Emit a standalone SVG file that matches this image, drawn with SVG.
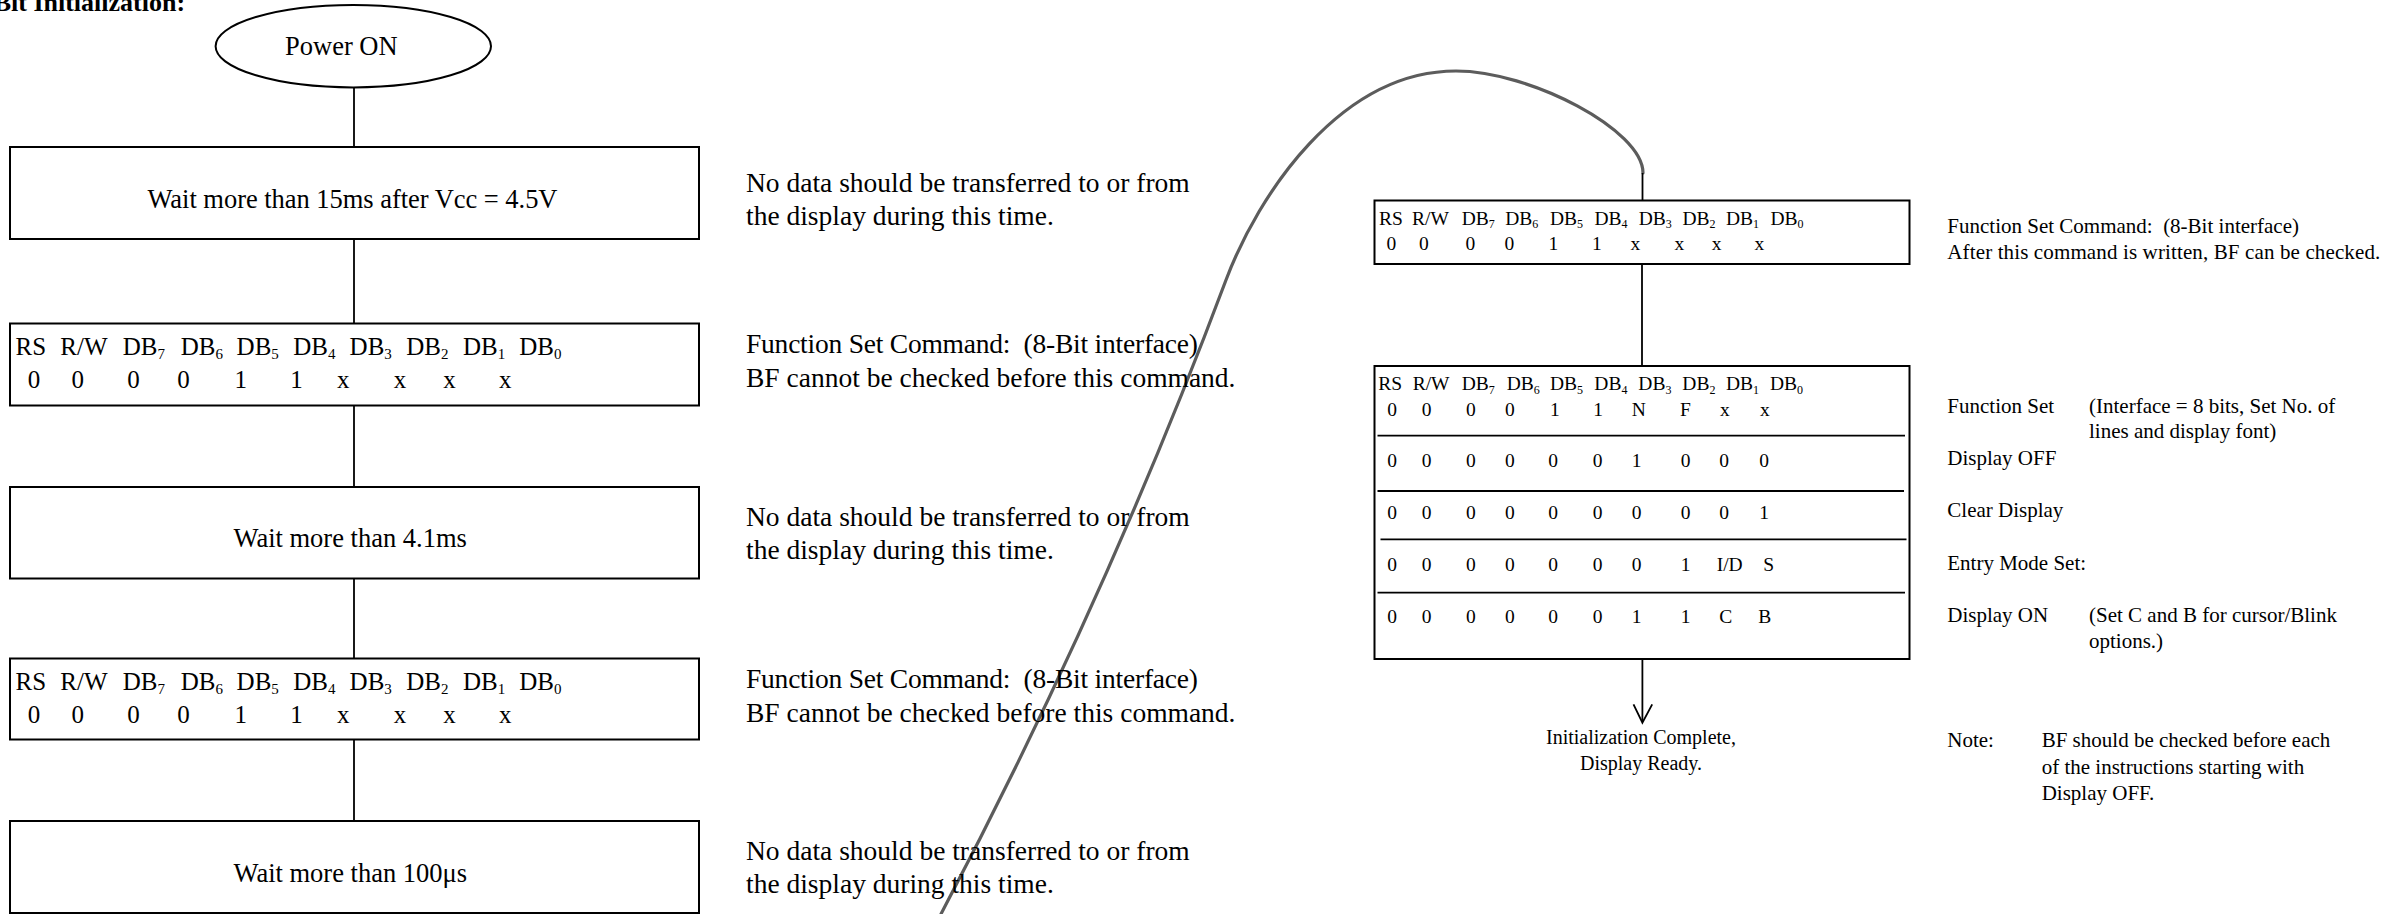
<svg xmlns="http://www.w3.org/2000/svg" width="2387" height="914" viewBox="0 0 2387 914">
<style>
.box{fill:none;stroke:#000;stroke-width:2}
.ln{fill:none;stroke:#000;stroke-width:1.8}
.curve{fill:none;stroke:#5c5c5c;stroke-width:3.2;stroke-linecap:round}
text{font-family:"Liberation Serif","Times New Roman",serif;fill:#000}
.title{font-size:26px;font-weight:bold}
.lt{font-size:26.5px}
.mt{font-size:27.5px}
.rt{font-size:21px}
.ft{font-size:20px}
.bt{font-size:25px}
.sb{font-size:15px}
.rb{font-size:19.5px}
.rsb{font-size:12px}
</style>
<rect width="2387" height="914" fill="#fff"/>
<text class="title" x="-28" y="11">8-Bit Initialization:</text>

<g id="connectors">
<line class="ln" x1="354" y1="87" x2="354" y2="147"/>
<line class="ln" x1="354" y1="239" x2="354" y2="323.5"/>
<line class="ln" x1="354" y1="405.5" x2="354" y2="487"/>
<line class="ln" x1="354" y1="578.5" x2="354" y2="658.5"/>
<line class="ln" x1="354" y1="739.5" x2="354" y2="821"/>
<path class="curve" d="M 941 914 C 1052 703, 1147 491, 1226 280 C 1258 195, 1340 71, 1456 71 C 1530 71, 1643 130, 1643 173"/>
<line class="ln" x1="1642.5" y1="173" x2="1642.5" y2="200.5"/>
<line class="ln" x1="1642" y1="264" x2="1642" y2="366"/>
<line class="ln" x1="1642.4" y1="659" x2="1642.4" y2="722"/>
<polyline class="ln" points="1633.5,704.3 1642.4,722.7 1652.2,704.3"/>
</g>

<g id="power-on">
<ellipse cx="353.3" cy="46.2" rx="137.7" ry="41.2" fill="none" stroke="#000" stroke-width="2"/>
<text class="lt" x="285" y="55">Power ON</text>
</g>

<g id="wait15">
<rect class="box" x="10" y="147" width="689" height="92"/>
<text class="lt" x="147.5" y="208.3" textLength="410">Wait more than 15ms after Vcc = 4.5V</text>
</g>
<g id="note1">
<text class="mt" x="746" y="191.7">No data should be transferred to or from</text>
<text class="mt" x="746" y="225">the display during this time.</text>
</g>

<g id="fs1">
<rect class="box" x="10" y="323.5" width="689" height="82"/>
<text class="bt"><tspan x="15.6" y="355">RS</tspan><tspan x="60.3" y="355">R/W</tspan><tspan x="122.8" y="355">DB</tspan><tspan class="sb" y="359">7</tspan><tspan x="180.8" y="355">DB</tspan><tspan class="sb" y="359">6</tspan><tspan x="236.6" y="355">DB</tspan><tspan class="sb" y="359">5</tspan><tspan x="293.3" y="355">DB</tspan><tspan class="sb" y="359">4</tspan><tspan x="349.6" y="355">DB</tspan><tspan class="sb" y="359">3</tspan><tspan x="406.3" y="355">DB</tspan><tspan class="sb" y="359">2</tspan><tspan x="463" y="355">DB</tspan><tspan class="sb" y="359">1</tspan><tspan x="519.2" y="355">DB</tspan><tspan class="sb" y="359">0</tspan></text>
<text class="bt" y="388.3"><tspan x="27.7">0</tspan><tspan x="71.4">0</tspan><tspan x="127.2">0</tspan><tspan x="177.2">0</tspan><tspan x="234.4">1</tspan><tspan x="290.2">1</tspan><tspan x="337">x</tspan><tspan x="393.8">x</tspan><tspan x="443.3">x</tspan><tspan x="499.1">x</tspan></text>
</g>
<g id="note2">
<text class="mt" x="746" y="353.3" xml:space="preserve" textLength="452">Function Set Command:  (8-Bit interface)</text>
<text class="mt" x="746" y="386.7">BF cannot be checked before this command.</text>
</g>

<g id="wait41">
<rect class="box" x="10" y="487" width="689" height="91.5"/>
<text class="lt" x="233.5" y="546.7">Wait more than 4.1ms</text>
</g>
<g id="note3">
<text class="mt" x="746" y="525.7">No data should be transferred to or from</text>
<text class="mt" x="746" y="559">the display during this time.</text>
</g>

<g id="fs2">
<rect class="box" x="10" y="658.5" width="689" height="81"/>
<text class="bt"><tspan x="15.6" y="690">RS</tspan><tspan x="60.3" y="690">R/W</tspan><tspan x="122.8" y="690">DB</tspan><tspan class="sb" y="694">7</tspan><tspan x="180.8" y="690">DB</tspan><tspan class="sb" y="694">6</tspan><tspan x="236.6" y="690">DB</tspan><tspan class="sb" y="694">5</tspan><tspan x="293.3" y="690">DB</tspan><tspan class="sb" y="694">4</tspan><tspan x="349.6" y="690">DB</tspan><tspan class="sb" y="694">3</tspan><tspan x="406.3" y="690">DB</tspan><tspan class="sb" y="694">2</tspan><tspan x="463" y="690">DB</tspan><tspan class="sb" y="694">1</tspan><tspan x="519.2" y="690">DB</tspan><tspan class="sb" y="694">0</tspan></text>
<text class="bt" y="723.3"><tspan x="27.7">0</tspan><tspan x="71.4">0</tspan><tspan x="127.2">0</tspan><tspan x="177.2">0</tspan><tspan x="234.4">1</tspan><tspan x="290.2">1</tspan><tspan x="337">x</tspan><tspan x="393.8">x</tspan><tspan x="443.3">x</tspan><tspan x="499.1">x</tspan></text>
</g>
<g id="note4">
<text class="mt" x="746" y="688.3" xml:space="preserve" textLength="452">Function Set Command:  (8-Bit interface)</text>
<text class="mt" x="746" y="721.7">BF cannot be checked before this command.</text>
</g>

<g id="wait100">
<rect class="box" x="10" y="821" width="689" height="92"/>
<text class="lt" x="233.5" y="881.7">Wait more than 100μs</text>
</g>
<g id="note5">
<text class="mt" x="746" y="860">No data should be transferred to or from</text>
<text class="mt" x="746" y="893.3">the display during this time.</text>
</g>

<g id="fs3">
<rect class="box" x="1374.5" y="200.5" width="535" height="63.5"/>
<text class="rb"><tspan x="1379" y="224.5">RS</tspan><tspan x="1412" y="224.5">R/W</tspan><tspan x="1461.7" y="224.5">DB</tspan><tspan class="rsb" y="228">7</tspan><tspan x="1505.2" y="224.5">DB</tspan><tspan class="rsb" y="228">6</tspan><tspan x="1550" y="224.5">DB</tspan><tspan class="rsb" y="228">5</tspan><tspan x="1594.5" y="224.5">DB</tspan><tspan class="rsb" y="228">4</tspan><tspan x="1638.7" y="224.5">DB</tspan><tspan class="rsb" y="228">3</tspan><tspan x="1682.5" y="224.5">DB</tspan><tspan class="rsb" y="228">2</tspan><tspan x="1726" y="224.5">DB</tspan><tspan class="rsb" y="228">1</tspan><tspan x="1770.5" y="224.5">DB</tspan><tspan class="rsb" y="228">0</tspan></text>
<text class="rb" y="250"><tspan x="1386.5">0</tspan><tspan x="1419">0</tspan><tspan x="1465.5">0</tspan><tspan x="1504.5">0</tspan><tspan x="1548.5">1</tspan><tspan x="1592">1</tspan><tspan x="1630.5">x</tspan><tspan x="1674.5">x</tspan><tspan x="1711.7">x</tspan><tspan x="1754.4">x</tspan></text>
</g>
<g id="note6">
<text class="rt" x="1947.3" y="232.6" xml:space="preserve">Function Set Command:  (8-Bit interface)</text>
<text class="rt" x="1947.3" y="258.5" textLength="433">After this command is written, BF can be checked.</text>
</g>

<g id="sequence">
<rect class="box" x="1374.5" y="366" width="535" height="293"/>
<line class="ln" x1="1377.5" y1="435.7" x2="1905" y2="435.7"/>
<line class="ln" x1="1377.5" y1="491" x2="1904" y2="491"/>
<line class="ln" x1="1380.5" y1="539.3" x2="1906.5" y2="539.3"/>
<line class="ln" x1="1377.5" y1="592.7" x2="1905" y2="592.7"/>
<text class="rb"><tspan x="1378.3" y="390">RS</tspan><tspan x="1412.7" y="390">R/W</tspan><tspan x="1461.7" y="390">DB</tspan><tspan class="rsb" y="393.5">7</tspan><tspan x="1506.7" y="390">DB</tspan><tspan class="rsb" y="393.5">6</tspan><tspan x="1550" y="390">DB</tspan><tspan class="rsb" y="393.5">5</tspan><tspan x="1594.3" y="390">DB</tspan><tspan class="rsb" y="393.5">4</tspan><tspan x="1638.3" y="390">DB</tspan><tspan class="rsb" y="393.5">3</tspan><tspan x="1682.3" y="390">DB</tspan><tspan class="rsb" y="393.5">2</tspan><tspan x="1726" y="390">DB</tspan><tspan class="rsb" y="393.5">1</tspan><tspan x="1770" y="390">DB</tspan><tspan class="rsb" y="393.5">0</tspan></text>
<text class="rb" y="415.7"><tspan x="1387.3">0</tspan><tspan x="1421.7">0</tspan><tspan x="1466">0</tspan><tspan x="1505">0</tspan><tspan x="1550">1</tspan><tspan x="1593.3">1</tspan><tspan x="1631.7">N</tspan><tspan x="1680">F</tspan><tspan x="1720">x</tspan><tspan x="1760">x</tspan></text>
<text class="rb" y="466.7"><tspan x="1387.3">0</tspan><tspan x="1421.7">0</tspan><tspan x="1466">0</tspan><tspan x="1505">0</tspan><tspan x="1548.3">0</tspan><tspan x="1592.7">0</tspan><tspan x="1631.7">1</tspan><tspan x="1680.7">0</tspan><tspan x="1719.3">0</tspan><tspan x="1759.3">0</tspan></text>
<text class="rb" y="519"><tspan x="1387.3">0</tspan><tspan x="1421.7">0</tspan><tspan x="1466">0</tspan><tspan x="1505">0</tspan><tspan x="1548.3">0</tspan><tspan x="1592.7">0</tspan><tspan x="1631.7">0</tspan><tspan x="1680.7">0</tspan><tspan x="1719.3">0</tspan><tspan x="1759.3">1</tspan></text>
<text class="rb" y="571"><tspan x="1387.3">0</tspan><tspan x="1421.7">0</tspan><tspan x="1466">0</tspan><tspan x="1505">0</tspan><tspan x="1548.3">0</tspan><tspan x="1592.7">0</tspan><tspan x="1631.7">0</tspan><tspan x="1680.7">1</tspan><tspan x="1716.7">I/D</tspan><tspan x="1763.3">S</tspan></text>
<text class="rb" y="623.3"><tspan x="1387.3">0</tspan><tspan x="1421.7">0</tspan><tspan x="1466">0</tspan><tspan x="1505">0</tspan><tspan x="1548.3">0</tspan><tspan x="1592.7">0</tspan><tspan x="1631.7">1</tspan><tspan x="1680.7">1</tspan><tspan x="1719.3">C</tspan><tspan x="1758.3">B</tspan></text>
</g>
<g id="labels">
<text class="rt" x="1947.3" y="412.5">Function Set</text>
<text class="rt" x="2089" y="412.5">(Interface = 8 bits, Set No. of</text>
<text class="rt" x="2089" y="438">lines and display font)</text>
<text class="rt" x="1947.3" y="464.7">Display OFF</text>
<text class="rt" x="1947.3" y="517">Clear Display</text>
<text class="rt" x="1947.3" y="569.6">Entry Mode Set:</text>
<text class="rt" x="1947.3" y="621.9">Display ON</text>
<text class="rt" x="2089" y="621.9">(Set C and B for cursor/Blink</text>
<text class="rt" x="2089" y="647.8">options.)</text>
</g>
<g id="note7">
<text class="rt" x="1947.3" y="747.3">Note:</text>
<text class="rt" x="2041.7" y="747.3">BF should be checked before each</text>
<text class="rt" x="2041.7" y="773.7">of the instructions starting with</text>
<text class="rt" x="2041.7" y="799.6">Display OFF.</text>
</g>
<g id="done">
<text class="ft" x="1641" y="744" text-anchor="middle">Initialization Complete,</text>
<text class="ft" x="1641" y="770" text-anchor="middle">Display Ready.</text>
</g>
</svg>
